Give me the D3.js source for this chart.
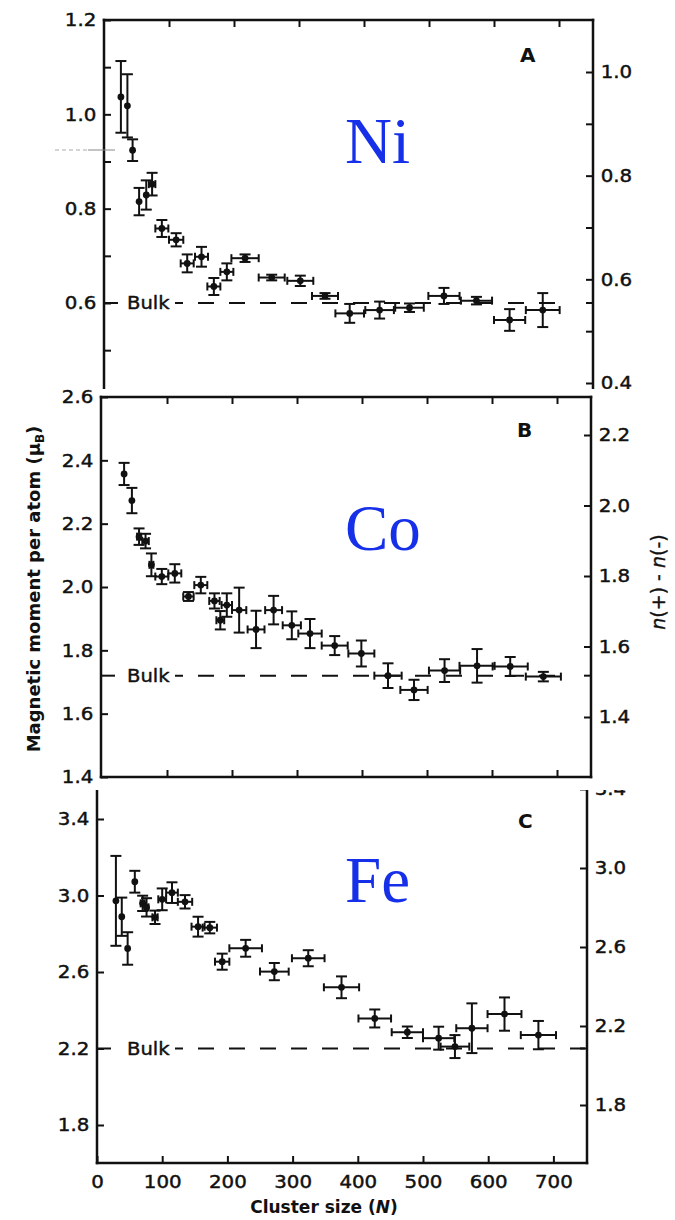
<!DOCTYPE html>
<html><head><meta charset="utf-8">
<script src="https://cdn.jsdelivr.net/npm/d3@7"></script>
<style>
body{margin:0;background:#fff;}
svg text{font-family:"DejaVu Sans",sans-serif;fill:#111;}
</style></head><body>
<svg id="chart" width="675" height="1220"></svg>
<script>
// ---------------- DATA ----------------
// Panel A: Ni
const niN    = [26, 36, 44, 54, 65, 74, 89, 111, 128, 150, 169, 189, 217, 258, 302, 340, 378, 424, 470, 523, 573, 624, 675];
const niMu   = [1.037, 1.018, 0.924, 0.815, 0.829, 0.852, 0.758, 0.734, 0.684, 0.698, 0.635, 0.666, 0.695, 0.654, 0.647, 0.615, 0.578, 0.585, 0.590, 0.615, 0.605, 0.564, 0.585];
const niErr  = [0.076, 0.067, 0.023, 0.029, 0.031, 0.024, 0.018, 0.014, 0.019, 0.021, 0.018, 0.018, 0.008, 0.006, 0.011, 0.006, 0.020, 0.018, 0.009, 0.017, 0.008, 0.023, 0.036];
const niNErr = [0, 0, 0, 0, 0, 5, 10, 11, 10, 10, 10, 10, 21, 20, 20, 20, 22, 22, 22, 24, 24, 24, 26];
// Panel B: Co
const coN    = [34, 46, 57, 67, 76, 92, 112, 133, 152, 173, 182, 192, 211, 237, 264, 292, 320, 358, 399, 440, 480, 527, 577, 628, 679];
const coMu   = [2.357, 2.273, 2.159, 2.145, 2.070, 2.033, 2.043, 1.970, 2.006, 1.956, 1.895, 1.943, 1.927, 1.866, 1.927, 1.879, 1.853, 1.815, 1.790, 1.720, 1.675, 1.736, 1.751, 1.749, 1.717];
const coErr  = [0.035, 0.040, 0.026, 0.023, 0.036, 0.024, 0.029, 0.014, 0.026, 0.024, 0.029, 0.037, 0.071, 0.059, 0.045, 0.044, 0.046, 0.030, 0.041, 0.039, 0.032, 0.036, 0.053, 0.030, 0.015];
const coNErr = [0, 0, 3, 5, 3, 10, 10, 8, 10, 8, 6, 8, 11, 13, 13, 14, 18, 20, 20, 21, 21, 24, 27, 27, 27];
// Panel C: Fe
const feN    = [29, 38, 47, 58, 70, 76, 89, 100, 115, 135, 155, 173, 192, 228, 272, 324, 375, 426, 476, 524, 549, 575, 625, 677];
const feMu   = [2.972, 2.889, 2.723, 3.072, 2.959, 2.938, 2.886, 2.980, 3.015, 2.967, 2.837, 2.832, 2.654, 2.724, 2.602, 2.672, 2.520, 2.357, 2.285, 2.254, 2.210, 2.306, 2.380, 2.270];
const feErr  = [0.235, 0.100, 0.085, 0.057, 0.040, 0.048, 0.035, 0.057, 0.054, 0.035, 0.052, 0.030, 0.042, 0.044, 0.045, 0.042, 0.057, 0.047, 0.030, 0.060, 0.060, 0.130, 0.087, 0.074];
const feNErr = [0, 0, 0, 0, 3, 3, 4, 6, 9, 11, 10, 11, 11, 25, 22, 25, 27, 25, 24, 24, 22, 24, 26, 27];

const bulkMoments   = [0.6, 1.72, 2.2];
const elementNames  = ["Ni", "Co", "Fe"];
const panelLetters  = ["A", "B", "C"];
const xTickValues   = [0, 100, 200, 300, 400, 500, 600, 700];
const xTickLabels   = ["0", "100", "200", "300", "400", "500", "600", "700"];
const leftTicksA    = [1.2, 1.1, 1.0, 0.9, 0.8, 0.7, 0.6, 0.5];
const leftLabelsA   = ["1.2", "", "1.0", "", "0.8", "", "0.6", ""];
const rightTicksA   = [1.0, 0.9, 0.8, 0.7, 0.6, 0.5, 0.4];
const rightLabelsA  = ["1.0", "", "0.8", "", "0.6", "", "0.4"];
const leftTicksB    = [2.6, 2.4, 2.2, 2.0, 1.8, 1.6, 1.4];
const leftLabelsB   = ["2.6", "2.4", "2.2", "2.0", "1.8", "1.6", "1.4"];
const rightTicksB   = [2.2, 2.0, 1.8, 1.6, 1.4];
const rightLabelsB  = ["2.2", "2.0", "1.8", "1.6", "1.4"];
const leftTicksC    = [3.4, 3.0, 2.6, 2.2, 1.8];
const leftLabelsC   = ["3.4", "3.0", "2.6", "2.2", "1.8"];
const rightTicksC   = [3.4, 3.0, 2.6, 2.2, 1.8];
const rightLabelsC  = ["3.4", "3.0", "2.6", "2.2", "1.8"];
const xTitle = "Cluster size";
const yTitle = "Magnetic moment per atom";

// ---------------- LAYOUT ----------------
const series = [
  {N: niN, mu: niMu, err: niErr, nerr: niNErr, lt: leftTicksA, ll: leftLabelsA, rt: rightTicksA, rl: rightLabelsA},
  {N: coN, mu: coMu, err: coErr, nerr: coNErr, lt: leftTicksB, ll: leftLabelsB, rt: rightTicksB, rl: rightLabelsB},
  {N: feN, mu: feMu, err: feErr, nerr: feNErr, lt: leftTicksC, ll: leftLabelsC, rt: rightTicksC, rl: rightLabelsC}
];
const layout = [
  {x0:104, x700:559, left:104, right:593, top:20, bottom:388, clip:[0,389],
   yL:{d:[1.2,0.6], r:[20,303]}, yR:{d:[1.0,0.4], r:[72,383]},
   topBorder:true, bottomBorder:false, bottomLabels:false, bulkEnd:565, el:[345,163], let:[520,62]},
  {x0:102, x700:557, left:101, right:591, top:397, bottom:777, clip:[389,789],
   yL:{d:[2.6,1.4], r:[397,777]}, yR:{d:[2.2,1.4], r:[435,717]},
   topBorder:true, bottomBorder:true, bottomLabels:false, bulkEnd:565, el:[345,550], let:[517,437]},
  {x0:97, x700:553.4, left:97, right:587, top:790, bottom:1163, clip:[790,1220],
   yL:{d:[3.4,1.8], r:[819,1125]}, yR:{d:[3.0,1.8], r:[868,1105]},
   topBorder:false, bottomBorder:true, bottomLabels:true, bulkEnd:585, el:[345,902], let:[518,828]}
];

const svg = d3.select("#chart");
const defs = svg.append("defs");
const FRAME_W = 2.5, BAR_W = 2, CAP = 5.5, XCAP = 4, TICK = 7;
const INK = "#111";

function thicken(sel, w) {
  sel.attr("stroke", INK).attr("stroke-width", w).attr("stroke-linejoin", "round");
}

function styleAxis(sel) {
  sel.select(".domain").remove();
  sel.attr("font-family", null).attr("font-size", null);
  sel.selectAll("line").attr("stroke", INK).attr("stroke-width", 2);
  sel.selectAll("text").attr("font-size", 18).attr("fill", INK)
     .attr("transform", "scale(1.1,1)").call(thicken, 0.45);
}

layout.forEach((L, p) => {
  const S = series[p];
  defs.append("clipPath").attr("id", "clip" + p)
    .append("rect").attr("x", 0).attr("y", L.clip[0]).attr("width", 675).attr("height", L.clip[1] - L.clip[0]);
  const g = svg.append("g").attr("clip-path", `url(#clip${p})`);

  const x = d3.scaleLinear().domain([0, 700]).range([L.x0, L.x700]);
  const yL = d3.scaleLinear().domain(L.yL.d).range(L.yL.r);
  const yR = d3.scaleLinear().domain(L.yR.d).range(L.yR.r);

  // axes
  g.append("g").attr("transform", `translate(${L.left},0)`)
    .call(d3.axisLeft(yL).tickValues(S.lt).tickFormat((d, i) => S.ll[i]).tickSizeInner(-TICK).tickSizeOuter(0).tickPadding(7))
    .call(styleAxis);
  g.append("g").attr("transform", `translate(${L.right},0)`)
    .call(d3.axisRight(yR).tickValues(S.rt).tickFormat((d, i) => S.rl[i]).tickSizeInner(-TICK).tickSizeOuter(0).tickPadding(7))
    .call(styleAxis);
  if (L.topBorder) {
    g.append("g").attr("transform", `translate(0,${L.top})`)
      .call(d3.axisTop(x).tickValues(xTickValues.slice(1)).tickFormat("").tickSizeInner(-TICK).tickSizeOuter(0))
      .call(styleAxis);
  }
  if (L.bottomBorder) {
    g.append("g").attr("transform", `translate(0,${L.bottom})`)
      .call(d3.axisBottom(x).tickValues(L.bottomLabels ? xTickValues : xTickValues.slice(1))
        .tickFormat((d) => L.bottomLabels ? xTickLabels[xTickValues.indexOf(d)] : "")
        .tickSizeInner(-TICK).tickSizeOuter(0).tickPadding(12))
      .call(styleAxis);
  }
  // frame lines
  const fr = g.append("g").attr("stroke", INK).attr("stroke-width", FRAME_W).attr("stroke-linecap", "square");
  fr.append("line").attr("x1", L.left).attr("x2", L.left).attr("y1", L.top).attr("y2", L.bottom);
  fr.append("line").attr("x1", L.right).attr("x2", L.right).attr("y1", L.top).attr("y2", L.bottom);
  if (L.topBorder) fr.append("line").attr("x1", L.left).attr("x2", L.right).attr("y1", L.top).attr("y2", L.top);
  if (L.bottomBorder) fr.append("line").attr("x1", L.left).attr("x2", L.right).attr("y1", L.bottom).attr("y2", L.bottom);

  // bulk reference
  const by = yL(bulkMoments[p]);
  g.append("line").attr("x1", L.left).attr("x2", L.left + 14).attr("y1", by).attr("y2", by)
    .attr("stroke", INK).attr("stroke-width", 2);
  g.append("line").attr("x1", L.right - TICK).attr("x2", L.right).attr("y1", by).attr("y2", by)
    .attr("stroke", INK).attr("stroke-width", 2);
  g.append("g").attr("transform", `translate(127,${by})`)
    .append("text").attr("dy", "0.36em").attr("font-size", 17.5).attr("transform", "scale(1.12,1)")
    .call(thicken, 0.4).text("Bulk");
  g.append("line").attr("x1", 175).attr("x2", L.bulkEnd).attr("y1", by).attr("y2", by)
    .attr("stroke", INK).attr("stroke-width", 2).attr("stroke-dasharray", "16,15").attr("stroke-dashoffset", 8);

  // data
  const idx = d3.range(S.N.length);
  const pts = g.append("g").attr("stroke", INK).attr("stroke-width", BAR_W).attr("fill", INK);
  const pg = pts.selectAll("g.pt").data(idx).join("g").attr("class", "pt");
  pg.each(function (i) {
    const el = d3.select(this);
    const cx = x(S.N[i]), cy = yL(S.mu[i]);
    if (S.err[i] > 0) {
      const y1 = yL(S.mu[i] + S.err[i]), y2 = yL(S.mu[i] - S.err[i]);
      el.append("line").attr("x1", cx).attr("x2", cx).attr("y1", y1).attr("y2", y2);
      el.append("line").attr("x1", cx - CAP).attr("x2", cx + CAP).attr("y1", y1).attr("y2", y1);
      el.append("line").attr("x1", cx - CAP).attr("x2", cx + CAP).attr("y1", y2).attr("y2", y2);
    }
    if (S.nerr[i] > 0) {
      const x1 = x(S.N[i] - S.nerr[i]), x2 = x(S.N[i] + S.nerr[i]);
      el.append("line").attr("x1", x1).attr("x2", x2).attr("y1", cy).attr("y2", cy);
      el.append("line").attr("x1", x1).attr("x2", x1).attr("y1", cy - XCAP).attr("y2", cy + XCAP);
      el.append("line").attr("x1", x2).attr("x2", x2).attr("y1", cy - XCAP).attr("y2", cy + XCAP);
    }
    el.append("circle").attr("cx", cx).attr("cy", cy).attr("r", 3.4).attr("stroke", "none");
  });

  // element name (blue serif) and panel letter
  svg.append("text").attr("x", L.el[0]).attr("y", L.el[1])
    .style("font-family", '"Liberation Serif","DejaVu Serif",serif').attr("font-size", 65)
    .style("fill", "#1530e8").text(elementNames[p]);
  svg.append("text").attr("x", L.let[0]).attr("y", L.let[1]).attr("font-weight", "bold")
    .attr("font-size", 20).text(panelLetters[p]);
});

// scan artifact line near the top-left of panel A
svg.append("line").attr("x1", 55).attr("x2", 88).attr("y1", 150).attr("y2", 150)
  .attr("stroke", "#aaa").attr("stroke-width", 1).attr("stroke-dasharray", "4,3");
svg.append("line").attr("x1", 88).attr("x2", 115).attr("y1", 150).attr("y2", 150)
  .attr("stroke", "#888").attr("stroke-width", 1);

// axis titles
const yt = svg.append("text").attr("transform", "translate(40,589) rotate(-90)")
  .attr("text-anchor", "middle").attr("font-weight", "bold").attr("font-size", 18);
yt.append("tspan").text(yTitle + " (\u03bc");
yt.append("tspan").attr("font-size", 12).attr("dy", 4).text("B");
yt.append("tspan").attr("dy", -4).text(")");

const rt = svg.append("text").attr("transform", "translate(665,582) rotate(-90)")
  .attr("text-anchor", "middle").attr("font-size", 19).call(thicken, 0.4);
rt.append("tspan").attr("font-style", "italic").text("n");
rt.append("tspan").text("(+) - ");
rt.append("tspan").attr("font-style", "italic").text("n");
rt.append("tspan").text("(-)");

const xt = svg.append("text").attr("x", 324).attr("y", 1213).attr("text-anchor", "middle")
  .attr("font-weight", "bold").attr("font-size", 17);
xt.append("tspan").text(xTitle + " (");
xt.append("tspan").attr("font-style", "italic").text("N");
xt.append("tspan").text(")");
</script>
</body></html>
